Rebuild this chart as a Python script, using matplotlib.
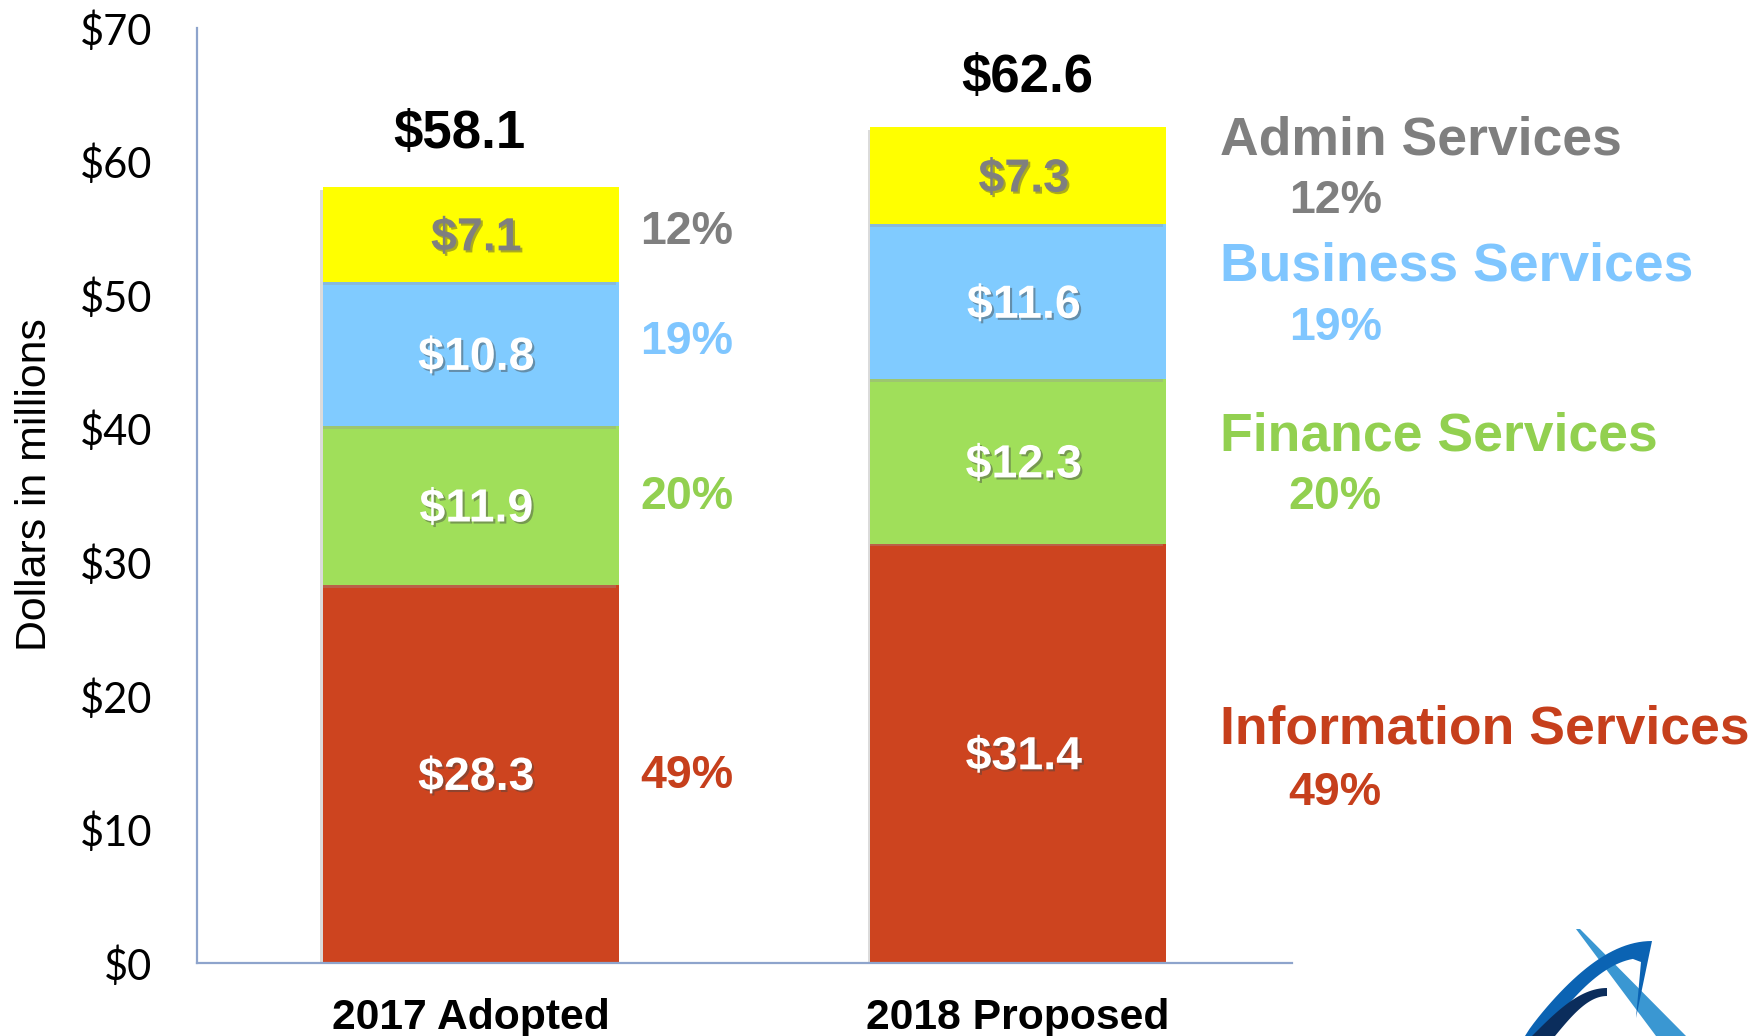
import matplotlib
matplotlib.use("Agg")
import matplotlib.pyplot as plt
import matplotlib.patheffects as pe
from matplotlib.patches import Polygon
import numpy as np

# ---- data ----
categories = ["2017 Adopted", "2018 Proposed"]
segments = ["Information Services", "Finance Services", "Business Services", "Admin Services"]
info_vals = [28.3, 31.4]
finance_vals = [11.9, 12.3]
business_vals = [10.8, 11.6]
admin_vals = [7.1, 7.3]
totals = [58.1, 62.6]
pct_2017 = ["49%", "20%", "19%", "12%"]
pct_2018 = ["49%", "20%", "19%", "12%"]
ytick_vals = [0, 10, 20, 30, 40, 50, 60, 70]
ytick_labels = ["$0", "$10", "$20", "$30", "$40", "$50", "$60", "$70"]

# ---- styles / label placement ----
bar_colors = ["#CD441F", "#A0DF5A", "#80CBFF", "#FFFF00"]
text_colors = ["#C63F1C", "#92D050", "#7FC6FF", "#7F7F7F"]
value_colors = ["white", "white", "white", "#7F7F7F"]
BOLD = ["Liberation Sans", "DejaVu Sans"]
pct_2017_y = [14.0, 34.9, 46.5, 54.7]
name_y = [17.45, 39.45, 52.15, 61.55]
pct_y = [12.75, 34.85, 47.55, 57.05]
total_dx = [-0.02, 0.017]
total_dy_pt = [38.4, 35.1]

fig = plt.figure(figsize=(17.62, 10.36), dpi=100)
ax = fig.add_axes([0.1118, 0.0705, 0.6214, 0.9025])

x = np.arange(len(categories))
width = 0.54
series = [info_vals, finance_vals, business_vals, admin_vals]
bottom = np.zeros(len(categories))
shadow = [pe.SimplePatchShadow(offset=(-2, -2), shadow_rgbFace="#999999", alpha=0.35), pe.Normal()]
txt_shadow = [pe.SimplePatchShadow(offset=(1.5, -1.5), shadow_rgbFace="#444444", alpha=0.45), pe.Normal()]

for i, vals in enumerate(series):
    vals = np.array(vals)
    bars = ax.bar(x, vals, width, bottom=bottom, color=bar_colors[i], edgecolor="none", zorder=2)
    for b in bars:
        b.set_path_effects(shadow)
    for j, v in enumerate(vals):
        ax.text(x[j] + 0.01, bottom[j] + v / 2 - 0.3, f"${v:.1f}", ha="center", va="center",
                fontsize=33.5, fontweight="bold", family=BOLD, color=value_colors[i],
                path_effects=txt_shadow, zorder=4)
    ax.text(0.395, pct_2017_y[i], pct_2017[i], ha="center", va="center",
            fontsize=33.5, fontweight="bold", family=BOLD, color=text_colors[i], zorder=4)
    bottom = bottom + vals

# totals above bars
for j, t in enumerate(totals):
    ax.annotate(f"${t:.1f}", xy=(x[j] + total_dx[j], t), xytext=(0, total_dy_pt[j]),
                textcoords="offset points", ha="center", va="center", fontsize=38,
                fontweight="bold", family=BOLD, color="black")

# right-hand segment labels for 2018
for i, name in enumerate(segments):
    ax.text(1.369, name_y[i], name, ha="left", va="center", fontsize=38.5, fontweight="bold",
            family=BOLD, color=text_colors[i], clip_on=False)
    ax.text(1.579, pct_y[i], pct_2018[i], ha="center", va="center", fontsize=33.5, fontweight="bold",
            family=BOLD, color=text_colors[i], clip_on=False)

ax.set_xlim(-0.5, 1.5)
ax.set_ylim(0, 70)
ax.set_yticks(ytick_vals)
ax.set_yticklabels(ytick_labels, family=["Lato", "DejaVu Sans"], fontsize=30)
ax.set_xticks(x)
ax.set_xticklabels(categories, fontsize=30.7, fontweight="bold", family=BOLD)
ax.tick_params(axis="y", length=0, pad=32)
ax.tick_params(axis="x", length=0, pad=25)
for s in ["top", "right"]:
    ax.spines[s].set_visible(False)
for s in ["left", "bottom"]:
    ax.spines[s].set_color("#8EA4CC")
    ax.spines[s].set_linewidth(1.6)

fig.text(35 / 1762, 1 - 485 / 1036, "Dollars in millions", rotation=90, ha="center", va="center",
         fontsize=30.8, family=["Liberation Sans", "DejaVu Sans"], color="black")

# ---- logo decoration (bottom right) ----
lax = fig.add_axes([0, 0, 1, 1], zorder=-1)
lax.set_xlim(0, 1762)
lax.set_ylim(1036, 0)
lax.axis("off")
lax.add_patch(Polygon([(1576, 929), (1580, 929), (1686, 1036), (1656, 1036)], closed=True,
                      facecolor="#3A97D2", edgecolor="none"))
t = np.linspace(0, 1, 30)
outer = np.column_stack([1525 + 127 * t, 1036 - 95 * np.sin(t * np.pi / 2) ** 0.9])
inner_t = t[::-1]
inner = np.column_stack([1545 + 98 * inner_t, 1036 - 78 * np.sin(inner_t * np.pi / 2) ** 0.9])
arc = np.vstack([outer, [[1652, 941], [1636, 1018], [1641, 962]], inner[3:]])
lax.add_patch(Polygon(arc, closed=True, facecolor="#0B63B3", edgecolor="none"))
nav_o = np.column_stack([1532 + 75 * t, 1036 - 48 * np.sin(t * np.pi / 2)])
nav_i = np.column_stack([1555 + 52 * inner_t, 1036 - 40 * np.sin(inner_t * np.pi / 2)])
lax.add_patch(Polygon(np.vstack([nav_o, nav_i]), closed=True, facecolor="#0B2D5C", edgecolor="none"))

fig.savefig("out.png", dpi=100)
